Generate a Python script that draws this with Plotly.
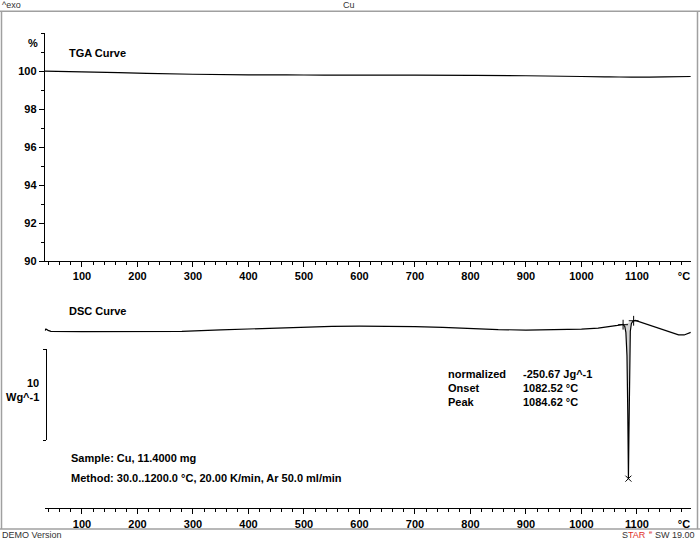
import plotly.graph_objects as go

W, H = 700, 546

# ---- data ----
tga_temp = [33, 100, 200, 300, 400, 500, 600, 700, 800, 900, 1000, 1050, 1090, 1150, 1197]
tga_pct = [100.0, 99.97, 99.90, 99.84, 99.81, 99.80, 99.79, 99.79, 99.78, 99.76, 99.72, 99.70, 99.69, 99.70, 99.72]

dsc_temp = [33, 35, 39, 44, 100, 200, 250, 280, 350, 400, 450, 500, 550, 600, 650, 700, 750,
            800, 850, 900, 950, 1000, 1030, 1050, 1065, 1075, 1078, 1080, 1082, 1083.5, 1084.6,
            1085.5, 1086.5, 1088, 1090, 1093, 1097, 1105, 1120, 1140, 1160, 1175, 1185, 1195, 1197]
dsc_wg = [-0.03, 0.14, 0.0, -0.11, -0.14, -0.14, -0.13, -0.11, 0.05, 0.16, 0.27, 0.38, 0.43, 0.46,
          0.46, 0.40, 0.33, 0.18, 0.08, 0.03, 0.05, 0.14, 0.25, 0.38, 0.54, 0.65, 0.43, -0.22, -2.8,
          -9.3, -16.3, -11.5, -5.0, -0.1, 0.76, 1.03, 1.09, 0.92, 0.65, 0.22, -0.22, -0.49, -0.51,
          -0.33, -0.22]

limit_temp = [1075, 1094]
limit_wg = [0.62, 1.05]
peak_temp = [1084.6]
peak_wg = [-16.3]

x_ticks = [100, 200, 300, 400, 500, 600, 700, 800, 900, 1000, 1100]
unit_tick = [1184.7]
unit_label = ["°C"]
tga_ticks = [90, 92, 94, 96, 98, 100]

results_labels = ["normalized", "Onset", "Peak"]
results_values = ["-250.67 Jg^-1", "1082.52 °C", "1084.62 °C"]

# ---- helpers (pixel -> paper) ----
def px(x):
    return x / W

def py(y):
    return 1 - y / H

FONT = "Liberation Sans"
X_RANGE = [33, 1197]
X_DOM = [px(44.8), px(690.8)]

fig = go.Figure()

fig.add_trace(go.Scatter(x=tga_temp, y=tga_pct, mode="lines",
                         line=dict(color="black", width=1.2, shape="spline"),
                         xaxis="x", yaxis="y", hoverinfo="skip", showlegend=False))

# shaded peak area
seg = [(t, v) for t, v in zip(dsc_temp, dsc_wg) if limit_temp[0] <= t <= limit_temp[1]]
fig.add_trace(go.Scatter(x=[limit_temp[0]] + [s[0] for s in seg] + [limit_temp[1], limit_temp[0]],
                         y=[limit_wg[0]] + [s[1] for s in seg] + [limit_wg[1], limit_wg[0]],
                         mode="lines", fill="toself", fillcolor="rgba(200,200,200,0.8)",
                         line=dict(width=0), xaxis="x2", yaxis="y2", hoverinfo="skip",
                         showlegend=False))

fig.add_trace(go.Scatter(x=dsc_temp, y=dsc_wg, mode="lines",
                         line=dict(color="black", width=1.2),
                         xaxis="x2", yaxis="y2", hoverinfo="skip", showlegend=False))
fig.add_trace(go.Scatter(x=limit_temp, y=limit_wg, mode="markers",
                         marker=dict(symbol="cross-thin", size=7, line=dict(color="black", width=1)),
                         xaxis="x2", yaxis="y2", hoverinfo="skip", showlegend=False))
fig.add_trace(go.Scatter(x=peak_temp, y=peak_wg, mode="markers",
                         marker=dict(symbol="x-thin", size=6, line=dict(color="black", width=1)),
                         xaxis="x2", yaxis="y2", hoverinfo="skip", showlegend=False))
# dummy traces for helper axes (10 W/g bracket, unit labels)
fig.add_trace(go.Scatter(x=[None], y=[None], mode="lines", xaxis="x2", yaxis="y3",
                         hoverinfo="skip", showlegend=False))
fig.add_trace(go.Scatter(x=[None], y=[None], mode="lines", xaxis="x3", yaxis="y",
                         hoverinfo="skip", showlegend=False))
fig.add_trace(go.Scatter(x=[None], y=[None], mode="lines", xaxis="x4", yaxis="y2",
                         hoverinfo="skip", showlegend=False))

tickfont = dict(family=FONT, size=11, color="black", weight="bold")
xcommon = dict(range=X_RANGE, domain=X_DOM, tickvals=x_ticks, ticks="outside", ticklen=5,
               tickwidth=1, tickcolor="black", showline=True, linecolor="black", linewidth=1,
               showgrid=False, zeroline=False, tickfont=tickfont,
               minor=dict(dtick=20, tick0=0, ticks="outside", ticklen=3, tickcolor="black",
                          showgrid=False))
unitaxis = dict(range=X_RANGE, domain=X_DOM, tickvals=unit_tick, ticktext=unit_label,
                ticks="outside", ticklen=5, tickwidth=1, tickcolor="rgba(0,0,0,0)",
                showline=False, showgrid=False, zeroline=False, tickfont=tickfont, side="bottom")

# DSC y scale: 10 W/g = 92 px, baseline 0 at py 334
k = 9.2
y2_top, y2_bot = 300, 514
y2_range = [-(y2_bot - 334) / k, (334 - y2_top) / k]

fig.update_layout(
    width=W, height=H, autosize=False,
    margin=dict(l=0, r=0, t=0, b=0),
    paper_bgcolor="white", plot_bgcolor="rgba(0,0,0,0)",
    showlegend=False,
    xaxis=dict(anchor="y", **xcommon),
    xaxis2=dict(anchor="y2", **xcommon),
    xaxis3=dict(anchor="y", overlaying="x", **unitaxis),
    xaxis4=dict(anchor="y2", overlaying="x2", **unitaxis),
    yaxis=dict(domain=[py(264), py(33.6)], range=[90, 102], anchor="x",
               tickvals=tga_ticks, ticks="outside", ticklen=5, tickwidth=1, tickcolor="black",
               showline=True, linecolor="black", linewidth=1, showgrid=False, zeroline=False,
               tickfont=tickfont,
               minor=dict(dtick=1, tick0=0, ticks="outside", ticklen=3, tickcolor="black",
                          showgrid=False)),
    yaxis2=dict(domain=[py(y2_bot), py(y2_top)], range=y2_range, anchor="x2", visible=False),
    yaxis3=dict(domain=[py(445), py(353)], range=[0, 10], anchor="free", position=px(46),
                tickvals=[0, 10], ticks="outside", ticklen=3, tickwidth=1, tickcolor="black",
                showticklabels=False, showline=True, linecolor="black", linewidth=1.3,
                showgrid=False, zeroline=False),
)

# frame
frame = dict(type="line", xref="paper", yref="paper", line=dict(color="#a0a0a0", width=1.5))
fig.add_shape(x0=0, x1=1, y0=py(11.5), y1=py(11.5), **frame)
fig.add_shape(x0=0, x1=1, y0=py(535), y1=py(535), **frame)
fig.add_shape(x0=px(1.5), x1=px(1.5), y0=py(11.5), y1=py(535), **frame)
fig.add_shape(x0=px(697.5), x1=px(697.5), y0=py(11.5), y1=py(535), **frame)

def ann(text, x, y, xa="left", size=11, bold=True, color="black"):
    fig.add_annotation(text=text, x=px(x), y=py(y), xref="paper", yref="paper",
                       xanchor=xa, yanchor="middle", showarrow=False,
                       font=dict(family=FONT, size=size, color=color,
                                 weight="bold" if bold else "normal"))

ann("^exo", 0, 5.5, size=9, bold=False, color="#333333")
ann("Cu", 349, 5.5, xa="center", size=9, bold=False, color="#333333")
ann("%", 40, 43, xa="right")
ann("TGA Curve", 67, 54)
ann("DSC Curve", 67, 314)
ann("10", 41, 387, xa="right")
ann("Wg^-1", 41, 401, xa="right")
ann("Sample: Cu, 11.4000 mg", 69, 463)
ann("Method: 30.0..1200.0 °C, 20.00 K/min, Ar 50.0 ml/min", 69, 483)
for i, (lab, val) in enumerate(zip(results_labels, results_values)):
    ann(lab, 446, 378 + i * 14)
    ann(val, 521, 378 + i * 14)
ann("DEMO Version", 0, 541, size=9, bold=False, color="#333333")
ann("SW 19.00", 697, 541, xa="right", size=9, bold=False, color="#333333")
ann('S<span style="color:#e0302a">TAR</span>', 648, 541, xa="right", size=9, bold=False,
    color="#333333")
ann("e", 646.5, 538, xa="left", size=6, bold=False, color="#e0302a")

fig.write_html("out.html")
